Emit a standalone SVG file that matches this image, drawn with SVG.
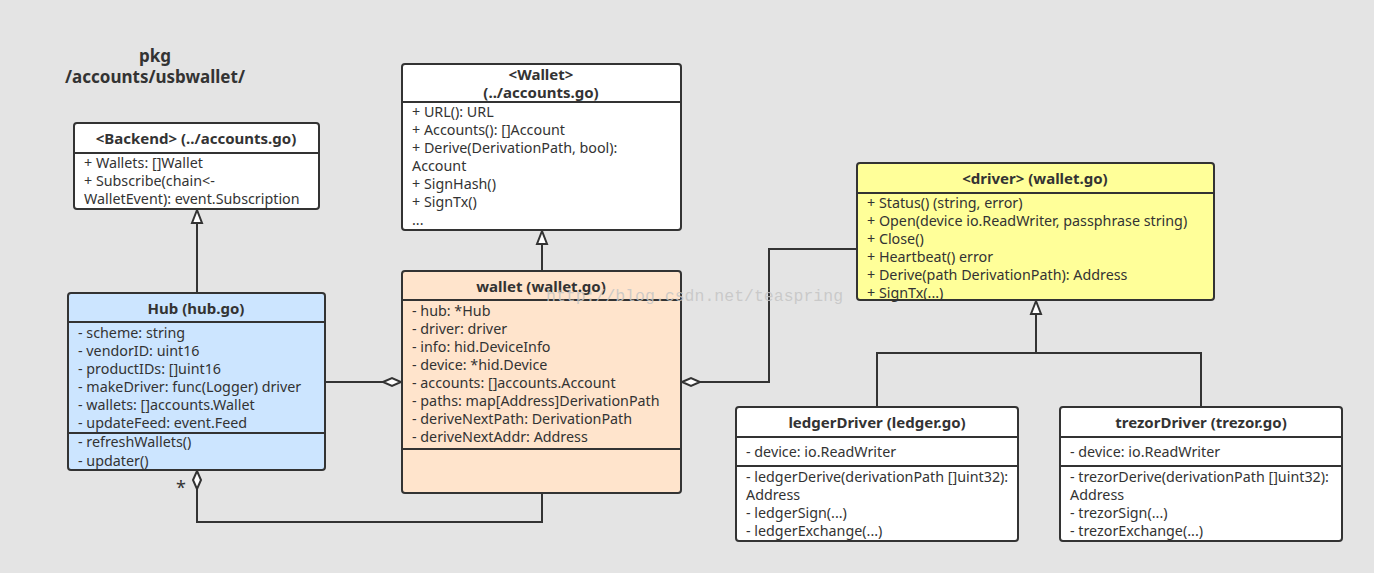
<svg xmlns="http://www.w3.org/2000/svg" width="1374" height="573" viewBox="0 0 1374 573">
<style>
text{font-family:"Noto Sans","Open Sans","DejaVu Sans",sans-serif;font-size:14.3px;fill:#333;dominant-baseline:central}
.t{font-weight:bold;font-size:15px;text-anchor:middle}
.pk{font-weight:bold;font-size:17px;text-anchor:middle}
.box{stroke:#333;stroke-width:2}
.sep{stroke:#333;stroke-width:2}
.c{fill:none;stroke:#333;stroke-width:2}
.dia{fill:#fff;stroke:#333;stroke-width:2}
.wm{font-family:"Liberation Mono",monospace;font-size:16.5px;fill:#c4c4c4;fill-opacity:0.85}
</style>
<defs>
<marker id="tri" markerWidth="16" markerHeight="14" refX="15" refY="7" orient="auto" markerUnits="userSpaceOnUse" viewBox="0 0 16 14">
<path d="M15,7 L2,2 L2,12 Z" fill="#fff" stroke="#333" stroke-width="2"/>
</marker>
</defs>
<rect width="1374" height="573" fill="#e4e4e4"/>
<g id="title">
<text class="pk" x="155" y="55">pkg</text>
<text class="pk" x="155" y="76">/accounts/usbwallet/</text>
</g>
<g id="connectors">
<line class="c" x1="197" y1="293" x2="197" y2="210" marker-end="url(#tri)"/>
<line class="c" x1="542" y1="271" x2="542" y2="231" marker-end="url(#tri)"/>
<polyline class="c" points="877,407 877,353 1201,353 1201,407"/>
<line class="c" x1="1036" y1="353" x2="1036" y2="301" marker-end="url(#tri)"/>
<line class="c" x1="325" y1="382" x2="383" y2="382"/>
<path class="dia" d="M383,382 L392,378 L401,382 L392,386 Z"/>
<polyline class="c" points="857,249 769,249 769,382 700,382"/>
<path class="dia" d="M682,382 L691,378 L700,382 L691,386 Z"/>
<polyline class="c" points="542,493 542,522 197,522 197,489"/>
<path class="dia" d="M197,471 L201,480 L197,489 L193,480 Z"/>
<text x="181" y="487" style="font-size:18px;text-anchor:middle">*</text>
</g>
<g id="backend">
<rect class="box" x="74" y="123" width="245" height="86" rx="3" fill="#fff"/>
<line class="sep" x1="74" y1="153" x2="319" y2="153"/>
<text class="t" x="196" y="138">&lt;Backend&gt; (../accounts.go)</text>
<text x="84" y="162">+ Wallets: []Wallet</text>
<text x="84" y="180">+ Subscribe(chain&lt;-</text>
<text x="84" y="198">WalletEvent): event.Subscription</text>
</g>
<g id="hub">
<rect class="box" x="68" y="293" width="257" height="177" rx="3" fill="#cce5ff"/>
<line class="sep" x1="68" y1="322" x2="325" y2="322"/>
<line class="sep" x1="68" y1="433" x2="325" y2="433"/>
<text class="t" x="196" y="308">Hub (hub.go)</text>
<text x="78" y="332">- scheme: string</text>
<text x="78" y="350">- vendorID: uint16</text>
<text x="78" y="368">- productIDs: []uint16</text>
<text x="78" y="386">- makeDriver: func(Logger) driver</text>
<text x="78" y="404">- wallets: []accounts.Wallet</text>
<text x="78" y="422">- updateFeed: event.Feed</text>
<text x="78" y="441">- refreshWallets()</text>
<text x="78" y="460">- updater()</text>
</g>
<g id="walletIface">
<rect class="box" x="402" y="64" width="279" height="166" rx="3" fill="#fff"/>
<line class="sep" x1="402" y1="102" x2="681" y2="102"/>
<text class="t" x="541" y="74">&lt;Wallet&gt;</text>
<text class="t" x="541" y="92">(../accounts.go)</text>
<text x="412" y="111">+ URL(): URL</text>
<text x="412" y="129">+ Accounts(): []Account</text>
<text x="412" y="147">+ Derive(DerivationPath, bool):</text>
<text x="412" y="165">Account</text>
<text x="412" y="183">+ SignHash()</text>
<text x="412" y="201">+ SignTx()</text>
<text x="412" y="219">...</text>
</g>
<g id="wallet">
<rect class="box" x="402" y="271" width="279" height="222" rx="3" fill="#ffe4cc"/>
<line class="sep" x1="402" y1="300" x2="681" y2="300"/>
<line class="sep" x1="402" y1="449" x2="681" y2="449"/>
<text class="t" x="541" y="286">wallet (wallet.go)</text>
<text x="412" y="310">- hub: *Hub</text>
<text x="412" y="328">- driver: driver</text>
<text x="412" y="346">- info: hid.DeviceInfo</text>
<text x="412" y="364">- device: *hid.Device</text>
<text x="412" y="382">- accounts: []accounts.Account</text>
<text x="412" y="400">- paths: map[Address]DerivationPath</text>
<text x="412" y="418">- deriveNextPath: DerivationPath</text>
<text x="412" y="436">- deriveNextAddr: Address</text>
</g>
<g id="driver">
<rect class="box" x="857" y="163" width="357" height="137" rx="3" fill="#ffff99"/>
<line class="sep" x1="857" y1="193" x2="1214" y2="193"/>
<text class="t" x="1035" y="178">&lt;driver&gt; (wallet.go)</text>
<text x="867" y="202">+ Status() (string, error)</text>
<text x="867" y="220">+ Open(device io.ReadWriter, passphrase string)</text>
<text x="867" y="238">+ Close()</text>
<text x="867" y="256">+ Heartbeat() error</text>
<text x="867" y="274">+ Derive(path DerivationPath): Address</text>
<text x="867" y="292">+ SignTx(...)</text>
</g>
<g id="ledgerDriver">
<rect class="box" x="736" y="407" width="282" height="134" rx="3" fill="#fff"/>
<line class="sep" x1="736" y1="437" x2="1018" y2="437"/>
<line class="sep" x1="736" y1="466" x2="1018" y2="466"/>
<text class="t" x="877" y="422">ledgerDriver (ledger.go)</text>
<text x="746" y="451">- device: io.ReadWriter</text>
<text x="746" y="476">- ledgerDerive(derivationPath []uint32):</text>
<text x="746" y="494">Address</text>
<text x="746" y="512">- ledgerSign(...)</text>
<text x="746" y="530">- ledgerExchange(...)</text>
</g>
<g id="trezorDriver">
<rect class="box" x="1060" y="407" width="282" height="134" rx="3" fill="#fff"/>
<line class="sep" x1="1060" y1="437" x2="1342" y2="437"/>
<line class="sep" x1="1060" y1="466" x2="1342" y2="466"/>
<text class="t" x="1201" y="422">trezorDriver (trezor.go)</text>
<text x="1070" y="451">- device: io.ReadWriter</text>
<text x="1070" y="476">- trezorDerive(derivationPath []uint32):</text>
<text x="1070" y="494">Address</text>
<text x="1070" y="512">- trezorSign(...)</text>
<text x="1070" y="530">- trezorExchange(...)</text>
</g>
<g id="watermark">
<text class="wm" x="546" y="296">http://blog.csdn.net/teaspring</text>
</g>
</svg>
